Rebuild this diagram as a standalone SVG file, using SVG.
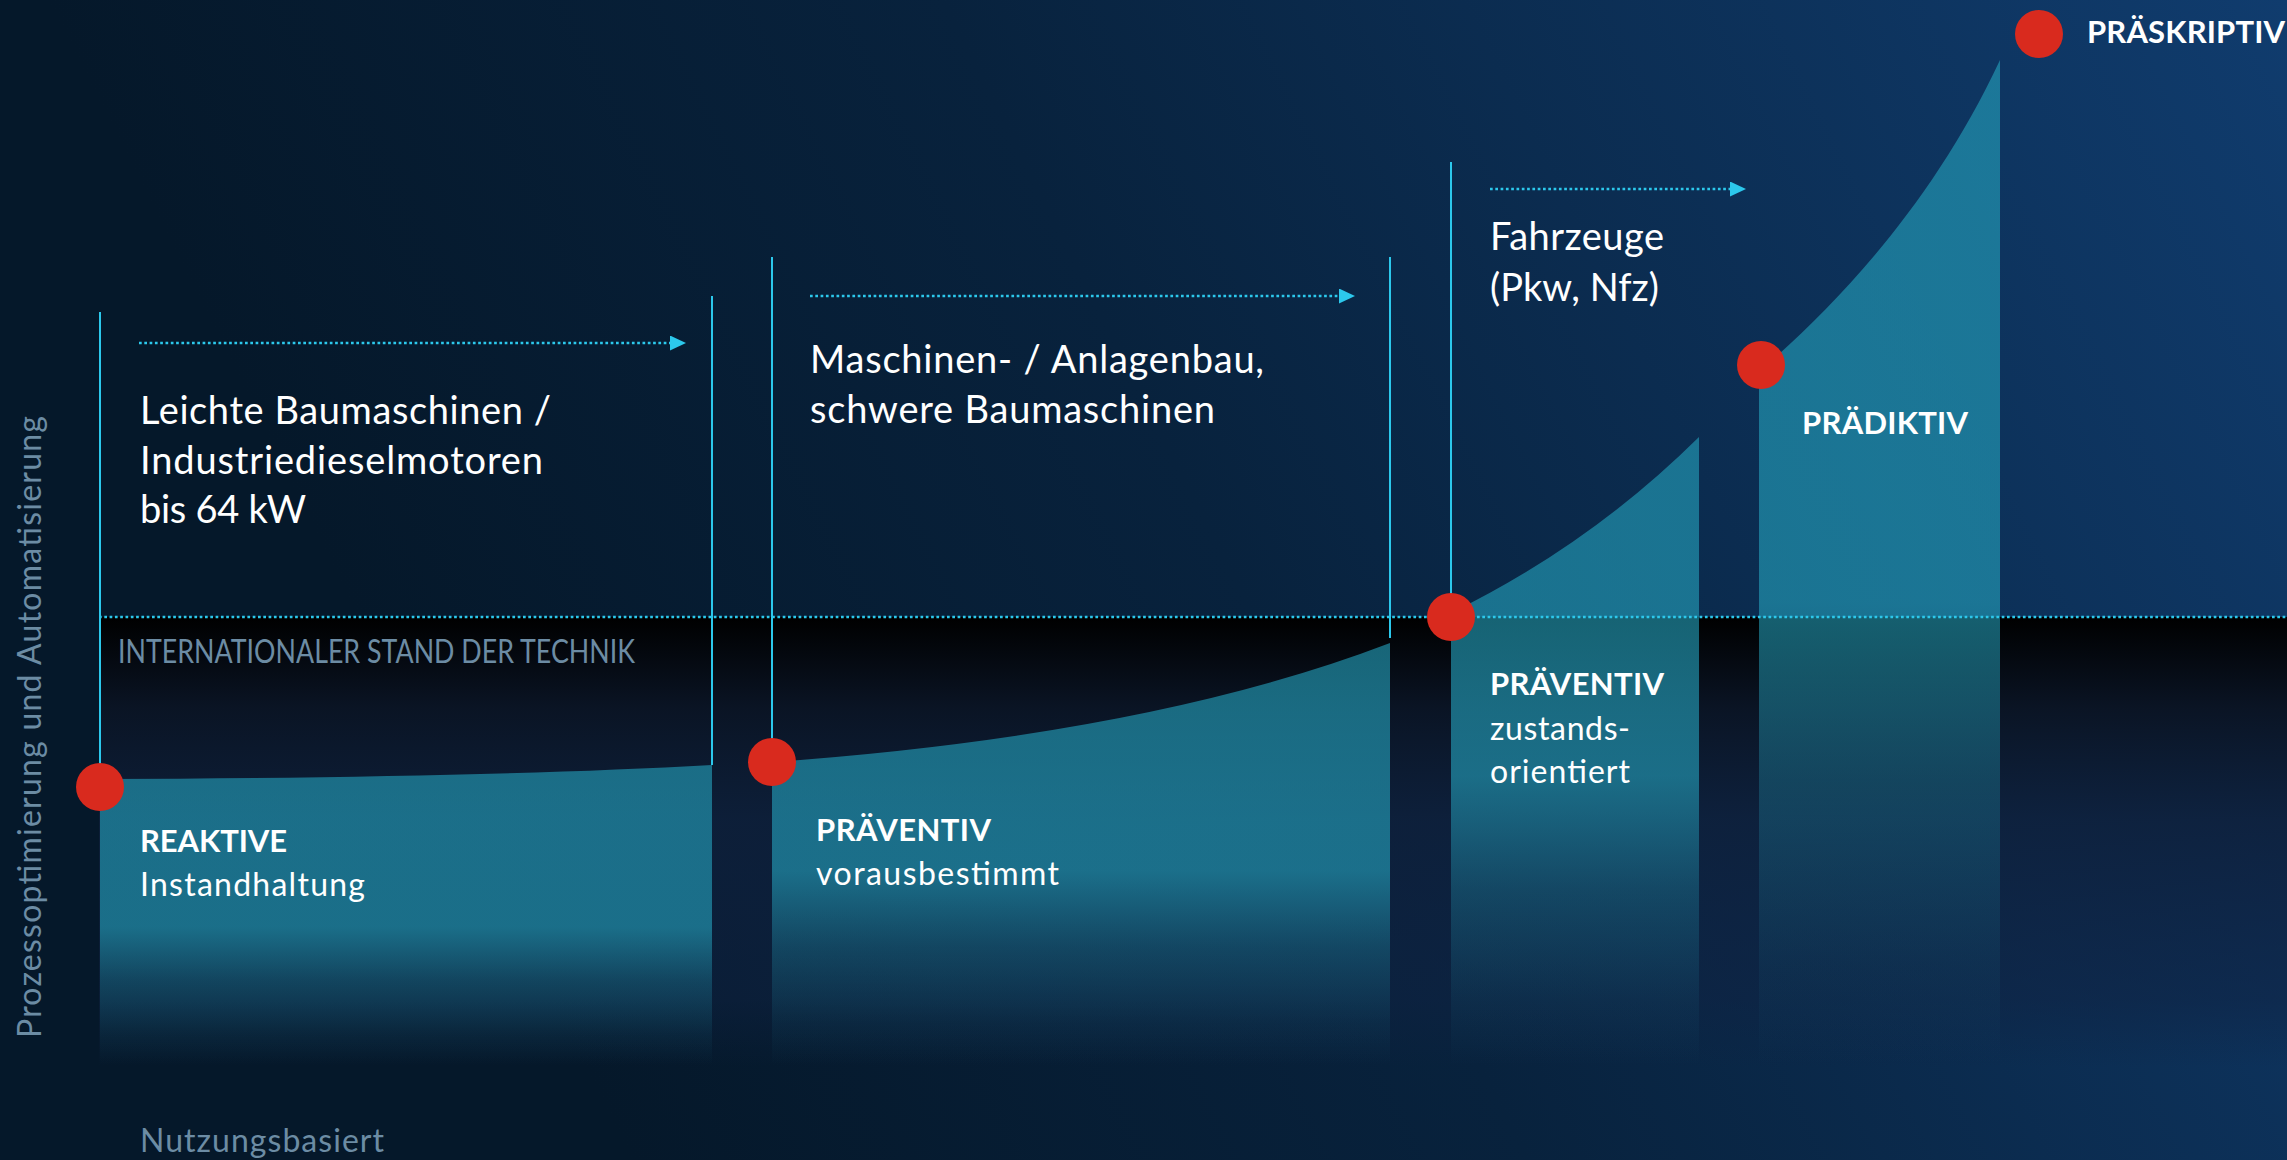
<svg xmlns="http://www.w3.org/2000/svg" width="2287" height="1160" viewBox="0 0 2287 1160">
  <defs>
    <linearGradient id="bg" gradientUnits="userSpaceOnUse" x1="500" y1="900" x2="2287" y2="0">
      <stop offset="0" stop-color="#05182a"/>
      <stop offset="0.4" stop-color="#08223d"/>
      <stop offset="1" stop-color="#103c6e"/>
    </linearGradient>
    <linearGradient id="band" x1="0" y1="0" x2="0" y2="1">
      <stop offset="0" stop-color="#000000" stop-opacity="1"/>
      <stop offset="0.2" stop-color="#0a1424" stop-opacity="1"/>
      <stop offset="0.45" stop-color="#0e1f3a" stop-opacity="0.85"/>
      <stop offset="0.85" stop-color="#0f2242" stop-opacity="0.5"/>
      <stop offset="1" stop-color="#0f2242" stop-opacity="0"/>
    </linearGradient>
    <linearGradient id="area" x1="0" y1="0" x2="0" y2="1">
      <stop offset="0" stop-color="#24a0bb" stop-opacity="0.62"/>
      <stop offset="0.54" stop-color="#24a0bb" stop-opacity="0.62"/>
      <stop offset="0.72" stop-color="#24a0bb" stop-opacity="0.3"/>
      <stop offset="0.9" stop-color="#24a0bb" stop-opacity="0.08"/>
      <stop offset="1" stop-color="#24a0bb" stop-opacity="0"/>
    </linearGradient>
    <marker id="arrow" markerUnits="userSpaceOnUse" markerWidth="16" markerHeight="15" refX="0" refY="7.5" orient="auto">
      <path d="M0,0 L16,7.5 L0,15 Z" fill="#2cc8ec"/>
    </marker>
    <style>
      .area { fill: url(#area); }
      .vline { stroke: #2cc8ec; stroke-width: 2; fill: none; }
      .dotted { stroke: #2cc8ec; stroke-width: 2.7; stroke-dasharray: 2.7 2.6; fill: none; }
      .dot { fill: #d92a1e; }
      .big { font-family: Lato, "Liberation Sans", sans-serif; font-size: 38px; fill: #ffffff; }
      .lbl { font-family: Lato, "Liberation Sans", sans-serif; font-size: 31px; font-weight: bold; fill: #ffffff; }
      .sub { font-family: Lato, "Liberation Sans", sans-serif; font-size: 32px; fill: #ffffff; }
      .axis { font-family: Lato, "Liberation Sans", sans-serif; font-size: 32px; fill: #6c8ca4; }
    </style>
  </defs>

  <g id="background">
    <rect x="0" y="0" width="2287" height="1160" fill="url(#bg)"/>
    <rect x="99" y="617" width="2188" height="450" fill="url(#band)"/>
  </g>

  <g id="areas">
    <path class="area" d="M100,779 Q480,778 712,765 L712,1065 L100,1065 Z"/>
    <path class="area" d="M772,762 Q1150,735 1390,643 L1390,1065 L772,1065 Z"/>
    <path class="area" d="M1451,613 Q1590,545 1699,437 L1699,1065 L1451,1065 Z"/>
    <path class="area" d="M1759,372 C1830,310 1930,210 2000,60 L2000,1065 L1759,1065 Z"/>
  </g>

  <g id="connectors">
    <line class="vline" x1="100" y1="312" x2="100" y2="765"/>
    <line class="vline" x1="712" y1="296" x2="712" y2="765"/>
    <line class="vline" x1="772" y1="257" x2="772" y2="740"/>
    <line class="vline" x1="1390" y1="257" x2="1390" y2="638"/>
    <line class="vline" x1="1451" y1="162" x2="1451" y2="595"/>
    <line class="dotted" x1="99" y1="617" x2="2287" y2="617"/>
    <line class="dotted" x1="139" y1="343" x2="670" y2="343" marker-end="url(#arrow)"/>
    <line class="dotted" x1="810" y1="296" x2="1339" y2="296" marker-end="url(#arrow)"/>
    <line class="dotted" x1="1490" y1="189" x2="1730" y2="189" marker-end="url(#arrow)"/>
  </g>

  <g id="axis-labels">
    <text class="axis" transform="translate(41,1038) rotate(-90)" x="0" y="0" textLength="622">Prozessoptimierung und Automatisierung</text>
    <text class="axis" x="140" y="1152" textLength="244">Nutzungsbasiert</text>
    <text class="axis" x="118" y="663" font-size="29" textLength="517" lengthAdjust="spacingAndGlyphs">INTERNATIONALER STAND DER TECHNIK</text>
  </g>

  <g id="segment-1">
    <text class="big" x="140" y="424" textLength="411">Leichte Baumaschinen /</text>
    <text class="big" x="140" y="474" textLength="403">Industriedieselmotoren</text>
    <text class="big" x="140" y="523" textLength="166">bis 64 kW</text>
  </g>
  <g id="segment-2">
    <text class="big" x="810" y="373" textLength="454">Maschinen- / Anlagenbau,</text>
    <text class="big" x="810" y="423" textLength="405">schwere Baumaschinen</text>
  </g>
  <g id="segment-3">
    <text class="big" x="1490" y="250" textLength="174">Fahrzeuge</text>
    <text class="big" x="1490" y="301" textLength="169">(Pkw, Nfz)</text>
  </g>

  <g id="node-reaktive">
    <circle class="dot" cx="100" cy="787" r="24"/>
    <text class="lbl" x="140" y="852" textLength="147">REAKTIVE</text>
    <text class="sub" x="140" y="896" textLength="225">Instandhaltung</text>
  </g>
  <g id="node-praeventiv-vorausbestimmt">
    <circle class="dot" cx="772" cy="762" r="24"/>
    <text class="lbl" x="816" y="841" textLength="175">PRÄVENTIV</text>
    <text class="sub" x="816" y="885" textLength="243">vorausbestimmt</text>
  </g>
  <g id="node-praeventiv-zustandsorientiert">
    <circle class="dot" cx="1451" cy="617" r="24"/>
    <text class="lbl" x="1490" y="695" textLength="174">PRÄVENTIV</text>
    <text class="sub" x="1490" y="740" textLength="140">zustands-</text>
    <text class="sub" x="1490" y="783" textLength="140">orientiert</text>
  </g>
  <g id="node-praediktiv">
    <circle class="dot" cx="1761" cy="365" r="24"/>
    <text class="lbl" x="1802" y="434" textLength="166">PRÄDIKTIV</text>
  </g>
  <g id="node-praeskriptiv">
    <circle class="dot" cx="2039" cy="34" r="24"/>
    <text class="lbl" x="2087" y="43" textLength="198">PRÄSKRIPTIV</text>
  </g>
</svg>
